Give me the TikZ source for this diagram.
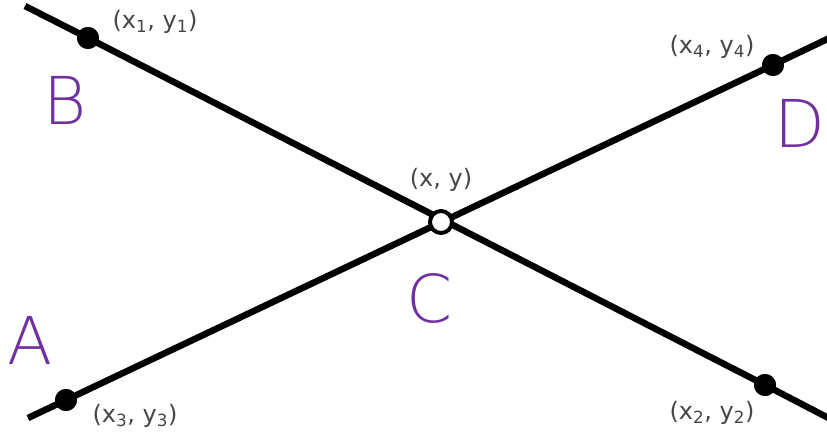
\documentclass[tikz,border=0pt]{standalone}
\usepackage{fontspec}
\setmainfont{DejaVu Sans}
\newfontfamily\handfont{DejaVu Sans ExtraLight}
\usepackage{xcolor}
\definecolor{penpurple}{RGB}{112,48,160}
\definecolor{labelgray}{RGB}{70,70,70}
\tikzset{
  pt/.style={circle, fill=black, minimum size=22pt, inner sep=0pt},
  crosspt/.style={circle, draw=black, fill=white, line width=4pt, minimum size=22pt, inner sep=0pt},
  coordlbl/.style={text=labelgray, font=\fontsize{24}{24}\selectfont, inner sep=0pt},
  handlbl/.style={text=penpurple, font=\handfont\fontsize{66}{66}\selectfont, inner sep=0pt}
}
\begin{document}
\begin{tikzpicture}[x=1pt, y=-1pt, line width=6.5pt]
    \useasboundingbox (0,0) rectangle (827,434);
    \coordinate (L1s) at (25,6);
    \coordinate (L1e) at (840,424);
    \coordinate (L2s) at (28,418);
    \coordinate (L2e) at (840,33);
    \node[pt] (P1) at (88,38) {};
    \node[pt] (P2) at (765,385) {};
    \node[pt] (P3) at (66,400) {};
    \node[pt] (P4) at (773,65) {};
    \draw (L1s) -- (P1.center) -- (P2.center) -- (L1e);
    \draw (L2s) -- (P3.center) -- (P4.center) -- (L2e);
    \node[pt] at (P1) {};
    \node[pt] at (P2) {};
    \node[pt] at (P3) {};
    \node[pt] at (P4) {};
    \node[crosspt] (X) at (441,222) {};
    \node[coordlbl] (lbl1) at (155,22) {(x\textsubscript{1}, y\textsubscript{1})};
    \node[coordlbl] (lbl2) at (712,413) {(x\textsubscript{2}, y\textsubscript{2})};
    \node[coordlbl] (lbl3) at (135,416) {(x\textsubscript{3}, y\textsubscript{3})};
    \node[coordlbl] (lbl4) at (712,47) {(x\textsubscript{4}, y\textsubscript{4})};
    \node[coordlbl] (lblX) at (441,180) {(x, y)};
    \node[handlbl] (hA) at (30,340) {A};
    \node[handlbl] (hB) at (65,100) {B};
    \node[handlbl] (hC) at (430,298) {C};
    \node[handlbl] (hD) at (800,123) {D};
\end{tikzpicture}
\end{document}
